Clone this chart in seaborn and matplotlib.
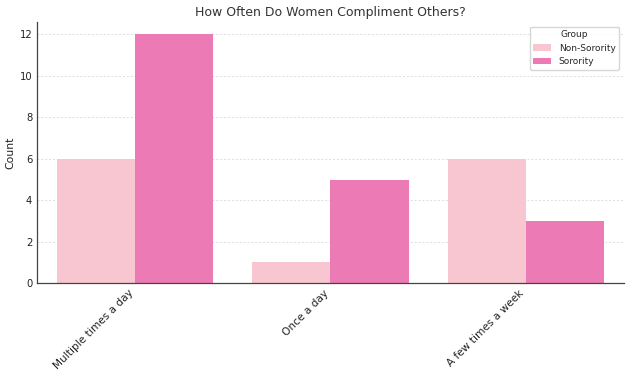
import matplotlib
matplotlib.use("Agg")
import matplotlib.pyplot as plt
import seaborn as sns
import pandas as pd

categories = ["Multiple times a day", "Once a day", "A few times a week"]
non_sorority = [6, 1, 6]
sorority = [12, 5, 3]
groups = ["Non-Sorority", "Sorority"]
colors = ["#F7C6D0", "#EC7BB5"]

df = pd.DataFrame({
    "Frequency": categories * 2,
    "Count": non_sorority + sorority,
    "Group": [groups[0]] * 3 + [groups[1]] * 3,
})

sns.set_style("white")
plt.rcParams["font.family"] = ["DejaVu Sans"]

fig, ax = plt.subplots(figsize=(6.3, 3.76), dpi=100)
sns.barplot(data=df, x="Frequency", y="Count", hue="Group", palette=colors,
            order=categories, hue_order=groups, ax=ax, saturation=1,
            linewidth=0, edgecolor="none")
ax.set_title("How Often Do Women Compliment Others?", fontsize=9, color="#333333", pad=4.5)
ax.set_xlabel("")
ax.set_ylabel("Count", fontsize=7.8, labelpad=3, color="#222222")
ax.set_yticks([0, 2, 4, 6, 8, 10, 12])
ax.set_ylim(0, 12.6)
ax.yaxis.grid(True, linestyle=(0, (2, 2)), color="#dddddd", linewidth=0.7)
ax.set_axisbelow(True)
for s in ["top", "right"]:
    ax.spines[s].set_visible(False)
for s in ["left", "bottom"]:
    ax.spines[s].set_color("#444444")
    ax.spines[s].set_linewidth(0.9)
ax.tick_params(axis="y", labelsize=7.2, length=2, pad=1.5, colors="#222222")
ax.tick_params(axis="x", labelsize=7.6, length=2, pad=1.5, colors="#222222")
plt.setp(ax.get_xticklabels(), rotation=45, ha="right")
leg = ax.legend(title="Group", fontsize=6.5, title_fontsize=6.5, loc="upper right", frameon=True)
leg.get_frame().set_edgecolor("#cccccc")
fig.subplots_adjust(left=0.059, right=0.99, top=0.9415, bottom=0.247)
fig.savefig("out.png", dpi=100)
